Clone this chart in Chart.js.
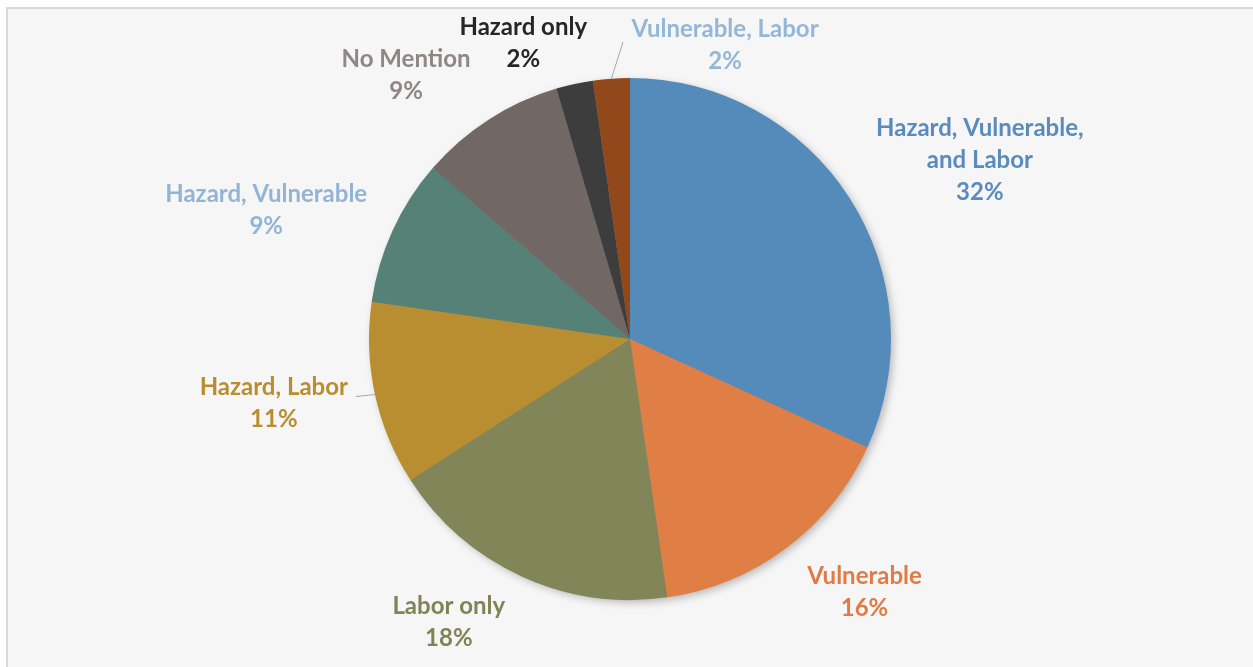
<!DOCTYPE html>
<html>
<head>
<meta charset="utf-8">
<script src="https://cdn.jsdelivr.net/npm/chart.js@4.4.0/dist/chart.umd.min.js"></script>
<style>
  html, body { margin: 0; padding: 0; background: #ffffff; overflow: hidden; }
  #frame {
    position: absolute; left: 6px; top: 7px; width: 1300px; height: 700px;
    border-top: 2px solid #d9d9d9; border-left: 2px solid #d9d9d9;
    background: #f6f6f6;
  }
  #pieChart { position: absolute; left: 0; top: 0; }
</style>
</head>
<body>
<div id="frame"></div>
<canvas id="pieChart" width="1253" height="667"></canvas>
<script>
// Slices, clockwise from 12 o'clock (counts, n = 44)
const categories = [
    ["Hazard, Vulnerable,", "and Labor"],
    "Vulnerable",
    "Labor only",
    "Hazard, Labor",
    "Hazard, Vulnerable",
    "No Mention",
    "Hazard only",
    "Vulnerable, Labor"
];
const counts = [14, 7, 8, 5, 4, 4, 1, 1];

const sliceColors = ["#548bba", "#df7f46", "#818558", "#b98e30", "#568176", "#716866", "#3d3d3d", "#91491b"];
const labelColors = ["#5a8bbf", "#e07b45", "#7f8456", "#b98e30", "#92b5d6", "#908684", "#262626", "#94b7d8"];

// label placement: radius as a multiple of the pie radius, angle shift (deg) from slice middle
const labelSpots = [
    { r: 1.506, da: 5.6 },
    { r: 1.322, da: -6.0 },
    { r: 1.287, da: 8.1 },
    { r: 1.387, da: 2.0, leader: [82, -7] },
    { r: 1.479, da: -5.0 },
    { r: 1.326, da: -7.6 },
    { r: 1.203, da: -7.6 },
    { r: 1.184, da: 22.0, leader: [-102, -3] }
];

const total = counts.reduce((a, b) => a + b, 0);

// soft shadow under the pie
const pieShadow = {
    id: "pieShadow",
    beforeDatasetsDraw(chart) {
        const arc = chart.getDatasetMeta(0).data[0];
        if (!arc) return;
        const ctx = chart.ctx;
        ctx.save();
        ctx.shadowColor = "rgba(0,0,0,0.28)";
        ctx.shadowBlur = 9;
        ctx.shadowOffsetX = 3;
        ctx.shadowOffsetY = 3;
        ctx.fillStyle = "#888";
        ctx.beginPath();
        ctx.arc(arc.x, arc.y, arc.outerRadius - 1, 0, Math.PI * 2);
        ctx.fill();
        ctx.restore();
    }
};

// outside labels with category + percent
const outsideLabels = {
    id: "outsideLabels",
    afterDatasetsDraw(chart) {
        const ctx = chart.ctx;
        const meta = chart.getDatasetMeta(0);
        ctx.save();
        ctx.font = "bold 24px Lato, 'Open Sans', sans-serif";
        ctx.textAlign = "center";
        ctx.textBaseline = "middle";
        meta.data.forEach((arc, i) => {
            const spot = labelSpots[i];
            const mid = (arc.startAngle + arc.endAngle) / 2;
            const ang = mid + spot.da * Math.PI / 180;
            const lx = arc.x + Math.cos(ang) * arc.outerRadius * spot.r;
            const ly = arc.y + Math.sin(ang) * arc.outerRadius * spot.r;

            if (spot.leader) {
                ctx.strokeStyle = "#a6a6a6";
                ctx.lineWidth = 1;
                ctx.beginPath();
                ctx.moveTo(arc.x + Math.cos(mid) * arc.outerRadius, arc.y + Math.sin(mid) * arc.outerRadius);
                ctx.lineTo(lx + spot.leader[0], ly + spot.leader[1]);
                ctx.stroke();
            }

            const name = categories[i];
            const lines = (Array.isArray(name) ? name.slice() : [name]);
            lines.push(Math.round(counts[i] / total * 100) + "%");
            const lh = 32;
            const y0 = ly - (lines.length - 1) * lh / 2;
            ctx.fillStyle = labelColors[i];
            lines.forEach((t, k) => ctx.fillText(t, lx, y0 + k * lh));
        });
        ctx.restore();
    }
};

const ctx = document.getElementById("pieChart").getContext("2d");
new Chart(ctx, {
    type: "pie",
    data: {
        labels: categories.map(c => Array.isArray(c) ? c.join(" ") : c),
        datasets: [{
            data: counts,
            backgroundColor: sliceColors,
            borderWidth: 0
        }]
    },
    options: {
        responsive: false,
        devicePixelRatio: 1,
        animation: false,
        events: [],
        layout: { padding: { top: 78, bottom: 67, left: 369, right: 362 } },
        plugins: {
            legend: { display: false },
            tooltip: { enabled: false }
        }
    },
    plugins: [pieShadow, outsideLabels]
});
</script>
</body>
</html>
